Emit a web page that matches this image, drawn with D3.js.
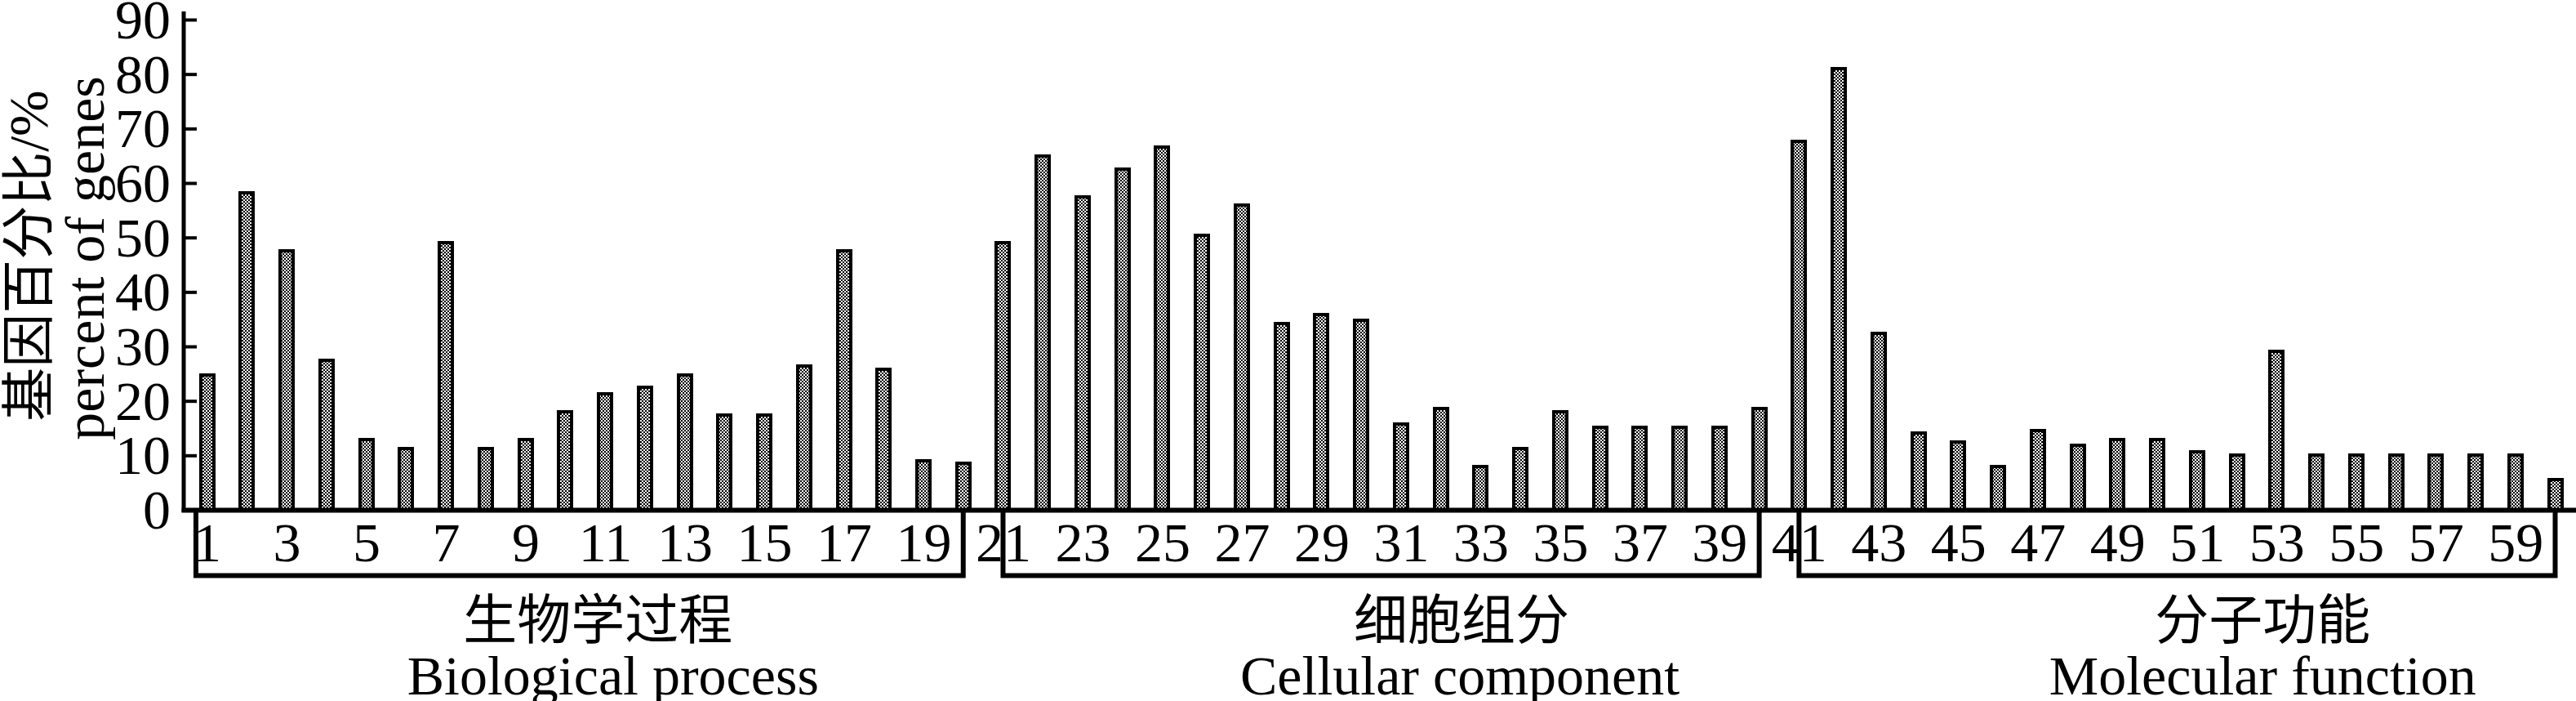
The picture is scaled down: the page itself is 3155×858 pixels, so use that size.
<!DOCTYPE html>
<html>
<head>
<meta charset="utf-8">
<script src="https://cdn.jsdelivr.net/npm/d3@7"></script>
<style>
  html, body { margin: 0; padding: 0; background: #fff; }
  svg { display: block; }
</style>
</head>
<body>
<script>
// ---------------- data ----------------
const categories = [1,2,3,4,5,6,7,8,9,10,11,12,13,14,15,16,17,18,19,20,
                    21,22,23,24,25,26,27,28,29,30,31,32,33,34,35,36,37,38,39,40,
                    41,42,43,44,45,46,47,48,49,50,51,52,53,54,55,56,57,58,59,60];
const bioValues  = [25.0, 58.5, 47.8, 27.7, 13.2, 11.5, 49.4, 11.5, 13.2, 18.3,
                    21.6, 22.8, 25.0, 17.7, 17.7, 26.7, 47.8, 26.1, 9.3, 8.8];
const cellValues = [49.4, 65.2, 57.8, 62.9, 66.9, 50.7, 56.2, 34.5, 36.1, 35.1,
                    16.0, 18.9, 8.2, 11.5, 18.3, 15.4, 15.4, 15.4, 15.4, 18.9];
const molValues  = [67.9, 81.3, 32.7, 14.4, 12.7, 8.2, 14.9, 12.1, 13.2, 13.2,
                    11.0, 10.4, 29.4, 10.4, 10.4, 10.4, 10.4, 10.4, 10.4, 5.9];
const yTicks = [0, 10, 20, 30, 40, 50, 60, 70, 80, 90];
const xTickLabels = [1,3,5,7,9,11,13,15,17,19,21,23,25,27,29,31,33,35,37,39,41,43,45,47,49,51,53,55,57,59];
const groupNamesCN = ["生物学过程", "细胞组分", "分子功能"];
const groupNamesEN = ["Biological process", "Cellular component", "Molecular function"];
const groupStart = [1, 21, 41];
const groupEnd   = [20, 40, 60];
const yTitleCN = "基因百分比";
const yTitleUnit = "/%";
const yTitleEN = "percent of genes";

// ---------------- layout ----------------
const W = 3155, H = 858;
const values = bioValues.concat(cellValues, molValues);
const data = categories.map((c, i) => ({ c, v: values[i] }));

const x = d3.scaleLinear().domain([1, 60]).range([253.6, 3129.5]);
const step = x(2) - x(1);
const y = d3.scaleLinear().domain([0, 90]).range([624, 24]);

const serif = "'Liberation Serif', 'Times New Roman', serif";
const cjk = "'Noto Sans CJK SC', sans-serif";

const svg = d3.select("body").append("svg")
  .attr("width", W).attr("height", H)
  .attr("viewBox", `0 0 ${W} ${H}`);

svg.append("rect").attr("width", W).attr("height", H).attr("fill", "#fff");

const defs = svg.append("defs");
const pat = defs.append("pattern")
  .attr("id", "chk").attr("patternUnits", "userSpaceOnUse")
  .attr("width", 4).attr("height", 4);
pat.append("rect").attr("width", 4).attr("height", 4).attr("fill", "#fff");
pat.append("rect").attr("width", 2).attr("height", 2).attr("fill", "#000");
pat.append("rect").attr("x", 2).attr("y", 2).attr("width", 2).attr("height", 2).attr("fill", "#000");

// bars
const barW = 16, barStroke = 4;
svg.append("g").selectAll("rect").data(data).join("rect")
  .attr("x", d => x(d.c) - barW / 2)
  .attr("y", d => y(d.v) + barStroke / 2)
  .attr("width", barW)
  .attr("height", d => y(0) - y(d.v) - barStroke / 2)
  .attr("fill", "url(#chk)")
  .attr("stroke", "#000")
  .attr("stroke-width", barStroke)
  .attr("shape-rendering", "crispEdges");

// y axis
const axisX = 225;
const yAxis = svg.append("g")
  .attr("transform", `translate(${axisX},0)`)
  .call(d3.axisLeft(y).tickValues(yTicks).tickSize(-16).tickSizeOuter(0).tickPadding(16));
yAxis.select(".domain").remove();
yAxis.selectAll(".tick line").attr("stroke", "#000").attr("stroke-width", 4);
yAxis.selectAll(".tick text")
  .attr("font-family", serif).attr("font-size", 68).attr("fill", "#000")
  .attr("dy", "0.33em");
svg.append("line")
  .attr("x1", axisX).attr("x2", axisX)
  .attr("y1", y(0) + 3).attr("y2", y(90) - 10)
  .attr("stroke", "#000").attr("stroke-width", 5);

// x baseline
svg.append("line")
  .attr("x1", axisX - 2.5).attr("x2", W)
  .attr("y1", y(0) + 0.5).attr("y2", y(0) + 0.5)
  .attr("stroke", "#000").attr("stroke-width", 6);

// x tick labels
const xAxis = svg.append("g")
  .attr("transform", `translate(0,${y(0)})`)
  .call(d3.axisBottom(x).tickValues(xTickLabels).tickSize(0).tickFormat(d3.format("d")));
xAxis.select(".domain").remove();
xAxis.selectAll(".tick text")
  .attr("font-family", serif).attr("font-size", 68).attr("fill", "#000")
  .attr("y", 63).attr("dy", 0);

// group boxes
const boxBottom = 704.5;
groupStart.forEach((s, i) => {
  const left = i === 0 ? x(s) - 0.28 * step : x(s);
  const right = x(groupEnd[i]);
  svg.append("path")
    .attr("d", `M${left},${y(0) + 3} V${boxBottom} H${right} V${y(0) + 3}`)
    .attr("fill", "none").attr("stroke", "#000").attr("stroke-width", 6)
    .attr("stroke-linejoin", "miter");
});

// group names
const cnCenters = [10.82, 32.52, 52.65];
const enCenters = [11.2, 32.48, 52.65];
groupNamesCN.forEach((t, i) => {
  svg.append("text")
    .attr("x", x(cnCenters[i])).attr("y", 782)
    .attr("text-anchor", "middle")
    .attr("font-family", cjk).attr("font-size", 66).attr("fill", "#000")
    .text(t);
});
groupNamesEN.forEach((t, i) => {
  svg.append("text")
    .attr("x", x(enCenters[i])).attr("y", 850)
    .attr("text-anchor", "middle")
    .attr("font-family", serif).attr("font-size", 68).attr("fill", "#000")
    .text(t);
});

// y axis titles
const t1 = svg.append("text")
  .attr("transform", "translate(58,313) rotate(-90)")
  .attr("text-anchor", "middle")
  .attr("font-size", 66).attr("fill", "#000");
t1.append("tspan").attr("font-family", cjk).text(yTitleCN);
t1.append("tspan").attr("font-family", serif).attr("font-size", 68).text(yTitleUnit);

svg.append("text")
  .attr("transform", "translate(127,316) rotate(-90)")
  .attr("text-anchor", "middle")
  .attr("font-family", serif).attr("font-size", 68).attr("fill", "#000")
  .text(yTitleEN);
</script>
</body>
</html>
